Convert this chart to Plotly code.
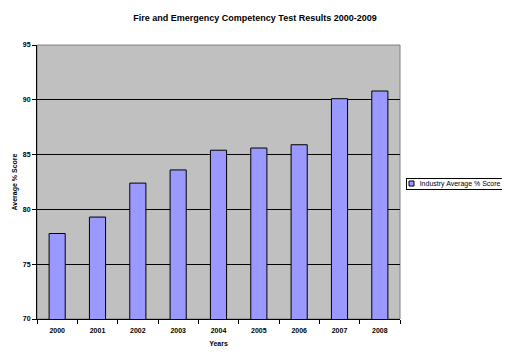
import plotly.graph_objects as go

years = ["2000", "2001", "2002", "2003", "2004", "2005", "2006", "2007", "2008"]
scores = [77.8, 79.3, 82.4, 83.6, 85.4, 85.6, 85.9, 90.1, 90.8]
series_name = "Industry Average % Score"
y_ticks = [70, 75, 80, 85, 90, 95]

FONT = "Liberation Sans, Arial, sans-serif"
BAR = "#9999FF"

# page body has an 8px margin, so the figure is sized to fit the 510x360 window
W, H = 502, 352
L, R, T, B = 29, 110, 37, 41

fig = go.Figure()
fig.add_trace(go.Bar(
    x=years, y=scores, name=series_name, width=0.4,
    marker=dict(color=BAR, line=dict(color="black", width=1)),
    showlegend=False,
))

fig.update_layout(
    width=W, height=H,
    margin=dict(l=L, r=R, t=T, b=B, autoexpand=False),
    paper_bgcolor="white", plot_bgcolor="#C0C0C0",
    title=dict(text="<b>Fire and Emergency Competency Test Results 2000-2009</b>",
               x=(255 - 8) / W, xanchor="center",
               y=1 - 10 / H, yanchor="middle",
               font=dict(family=FONT, size=9, color="black")),
    font=dict(family=FONT, size=7, color="black"),
    showlegend=False,
)

fig.update_xaxes(
    type="category", tickson="boundaries", ticks="outside", ticklen=4,
    tickcolor="black", showline=True, linecolor="black", linewidth=1,
    mirror=False, showgrid=False, ticklabelstandoff=5, automargin=False,
    tickfont=dict(family=FONT, size=7, color="black", weight="bold"),
    title=dict(text="<b>Years</b>", standoff=7, font=dict(family=FONT, size=7)),
)
fig.update_yaxes(
    range=[70, 95], tickvals=y_ticks, ticks="outside", ticklen=4,
    tickcolor="black", showline=True, linecolor="black", linewidth=1,
    showgrid=True, gridcolor="black", gridwidth=1, zeroline=False,
    automargin=False,
    tickfont=dict(family=FONT, size=7, color="black", weight="bold"),
    title=dict(text="<b>Average % Score</b>", standoff=4, font=dict(family=FONT, size=7)),
)

# gray plot-area border on top and right
fig.add_shape(type="rect", xref="paper", yref="paper", x0=0, y0=0, x1=1, y1=1,
              line=dict(color="#808080", width=1), layer="below")

# compact legend box (as in the reference): swatch + label with border
pw = W - L - R
ph = H - T - B
def px_x(x):  # page x -> paper x
    return (x - 8 - L) / pw
def px_y(y):  # page y -> paper y
    return 1 - (y - 8 - T) / ph

fig.add_annotation(
    xref="paper", yref="paper", x=px_x(406), y=px_y(183.5),
    xanchor="left", yanchor="middle", showarrow=False,
    text="      " + series_name, align="left",
    font=dict(family=FONT, size=7, color="black"),
    bordercolor="black", borderwidth=1, borderpad=1, bgcolor="rgba(0,0,0,0)",
)
fig.add_shape(type="rect", xref="paper", yref="paper",
              x0=px_x(409), x1=px_x(414), y0=px_y(186), y1=px_y(181),
              fillcolor=BAR, line=dict(color="black", width=1), layer="above")

fig.write_html("out.html")
